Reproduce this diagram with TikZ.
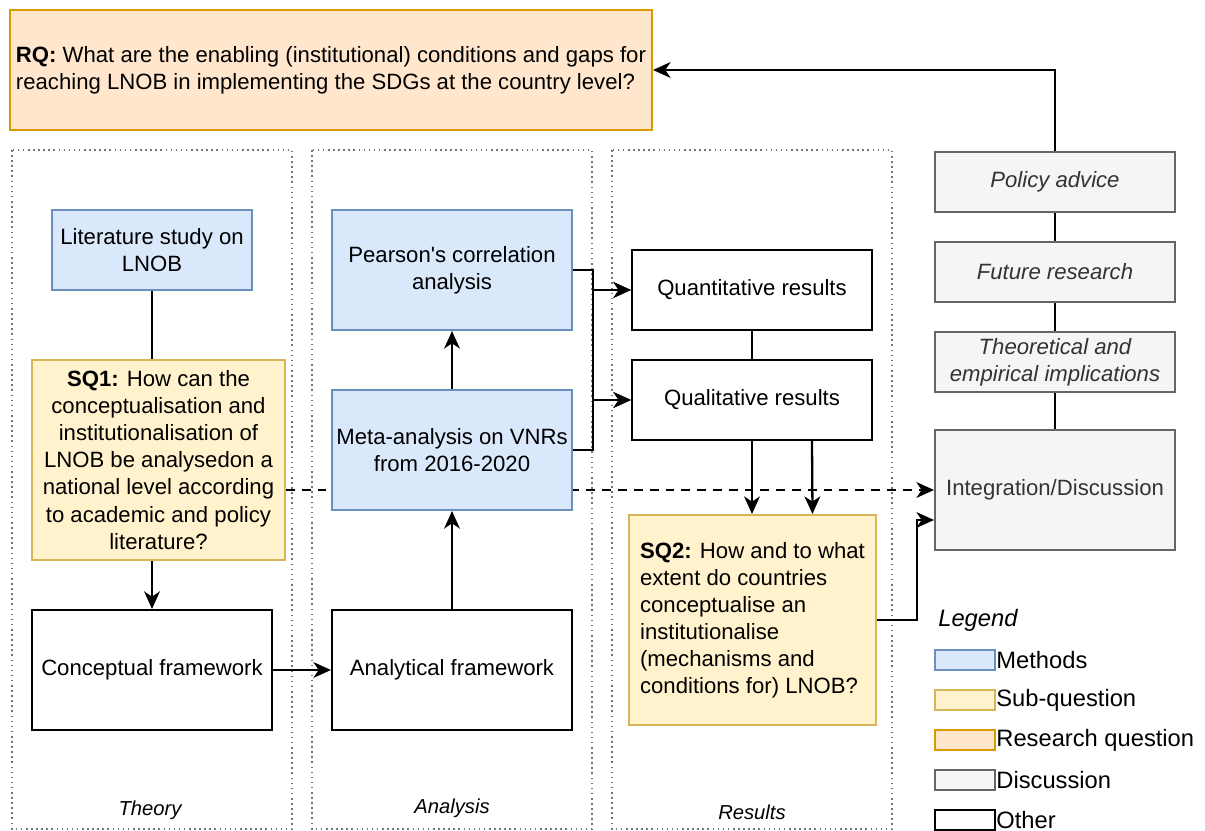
\documentclass[tikz,border=0pt]{standalone}
\usepackage{fontspec}
\setmainfont{Liberation Sans}
\usetikzlibrary{arrows.meta,calc,backgrounds}

\definecolor{methfill}{HTML}{DAE8FC}
\definecolor{methline}{HTML}{6C8EBF}
\definecolor{subfill}{HTML}{FFF2CC}
\definecolor{subline}{HTML}{D6B656}
\definecolor{rqfill}{HTML}{FFE6CC}
\definecolor{rqline}{HTML}{D79B00}
\definecolor{discfill}{HTML}{F5F5F5}
\definecolor{discline}{HTML}{666666}
\definecolor{disctext}{HTML}{333333}

\tikzset{
  base/.style={draw,line width=1.2pt,inner sep=2pt,align=center,
    font=\fontsize{12.6}{15.4}\selectfont},
  methbox/.style={base,fill=methfill,draw=methline},
  subbox/.style={base,fill=subfill,draw=subline},
  rqbox/.style={base,fill=rqfill,draw=rqline},
  discbox/.style={base,fill=discfill,draw=discline,text=disctext,
    font=\fontsize{12.6}{15.4}\selectfont\itshape},
  otherbox/.style={base,fill=white,draw=black},
  column/.style={draw=black!55,dotted,line width=0.9pt},
  collabel/.style={font=\fontsize{11.5}{13}\selectfont\itshape},
  flow/.style={line width=1.3pt,-{Stealth[length=10pt,width=9pt,inset=3pt]}},
  link/.style={line width=1.3pt},
  swatch/.style={draw,line width=1.2pt,minimum width=1.2cm,minimum height=0.4cm,inner sep=0pt},
  legtext/.style={anchor=west,inner sep=0pt,font=\fontsize{13.5}{16}\selectfont}
}

\begin{document}
\begin{tikzpicture}[x=0.02cm,y=-0.02cm]
\useasboundingbox (0,0) rectangle (1205,831);

\draw [column] (12,150) rectangle (292,829);
\draw [column] (312,150) rectangle (592,829);
\draw [column] (612,150) rectangle (892,829);
\node [collabel] (ltheory) at (150,810) {Theory};
\node [collabel] (lanalysis) at (452,808) {Analysis};
\node [collabel] (lresults) at (752,812) {Results};

\node [rqbox,minimum width=12.84cm,minimum height=2.4cm,align=left] (rq) at (331,70)
  {\textbf{RQ:} What are the enabling (institutional) conditions and gaps for\\
   reaching LNOB in implementing the SDGs at the country level?};

\node [methbox,minimum width=4cm,minimum height=1.6cm] (lit) at (152,250)
  {Literature study on\\LNOB};
\node [subbox,minimum width=5.06cm,minimum height=4cm] (sq1) at (158.5,460)
  {\textbf{SQ1:} How can the\\conceptualisation and\\institutionalisation of\\
   LNOB be analysedon a\\national level according\\to academic and policy\\literature?};
\node [otherbox,minimum width=4.8cm,minimum height=2.4cm] (concept) at (152,670)
  {Conceptual framework};

\node [methbox,minimum width=4.8cm,minimum height=2.4cm] (pearson) at (452,270)
  {Pearson\textquotesingle s correlation\\analysis};
\node [methbox,minimum width=4.8cm,minimum height=2.4cm] (meta) at (452,450)
  {Meta-analysis on VNRs\\from 2016-2020};
\node [otherbox,minimum width=4.8cm,minimum height=2.4cm] (analytic) at (452,670)
  {Analytical framework};

\node [otherbox,minimum width=4.8cm,minimum height=1.6cm] (quant) at (752,290)
  {Quantitative results};
\node [otherbox,minimum width=4.8cm,minimum height=1.6cm] (qual) at (752,400)
  {Qualitative results};
\node [subbox,minimum width=4.94cm,minimum height=4.2cm,align=left] (sq2) at (752.5,620)
  {\textbf{SQ2:} How and to what\\extent do countries\\conceptualise an\\
   institutionalise\\(mechanisms and\\conditions for) LNOB?};

\node [discbox,minimum width=4.8cm,minimum height=1.2cm] (policy) at (1055,182)
  {Policy advice};
\node [discbox,minimum width=4.8cm,minimum height=1.2cm] (future) at (1055,272)
  {Future research};
\node [discbox,minimum width=4.8cm,minimum height=1.2cm] (implic) at (1055,362)
  {Theoretical and\\empirical implications};
\node [discbox,minimum width=4.8cm,minimum height=2.4cm,font=\fontsize{12.6}{15.4}\selectfont] (integ) at (1055,490)
  {Integration/Discussion};

% legend
\node [legtext,font=\fontsize{13.5}{16}\selectfont\itshape] (legend) at (938,620) {Legend};
\node [swatch,fill=methfill,draw=methline] (smeth) at (965,660) {};
\node [legtext] (tmeth) at (smeth.east) {Methods};
\node [swatch,fill=subfill,draw=subline] (ssub) at (965,700) {};
\node [legtext] (tsub) at (ssub.east) {Sub-question};
\node [swatch,fill=rqfill,draw=rqline] (srq) at (965,740) {};
\node [legtext] (trq) at (srq.east) {Research question};
\node [swatch,fill=discfill,draw=discline] (sdisc) at (965,780) {};
\node [legtext] (tdisc) at (sdisc.east) {Discussion};
\node [swatch,fill=white,draw=black] (sother) at (965,820) {};
\node [legtext] (tother) at (sother.east) {Other};

\begin{pgfonlayer}{background}
\draw [flow,dashed,dash pattern=on 5pt off 4pt] (sq1.east |- integ.west) -- (integ.west);
\end{pgfonlayer}

\draw [link] (lit.south) -- (lit.south |- sq1.north);
\draw [flow] (concept.north |- sq1.south) -- (concept.north);
\draw [flow] (concept) -- (analytic);
\draw [flow] (analytic) -- (meta);
\draw [flow] (meta) -- (pearson);
\draw [flow] (pearson.east) -- ++(20,0) |- (quant.west);
\draw [flow] (pearson.east) -- ++(20,0) |- (qual.west);
\draw [flow] (meta.east) -- ++(20,0) |- (quant.west);
\draw [flow] (meta.east) -- ++(20,0) |- (qual.west);
\draw [link] (quant) -- (qual);
\draw [flow] (qual.south) -- (qual.south |- sq2.north);
\draw [flow] ($(qual.south)+(60,0)$) -- ($(sq2.north)+(60,0)$);
\draw [flow] (sq2.east) -- ++(40,0) |- ($(integ.west)+(0,30)$);
\draw [link] (integ) -- (implic);
\draw [link] (implic) -- (future);
\draw [link] (future) -- (policy);
\draw [flow] (policy.north) |- (rq.east);
\end{tikzpicture}
\end{document}
